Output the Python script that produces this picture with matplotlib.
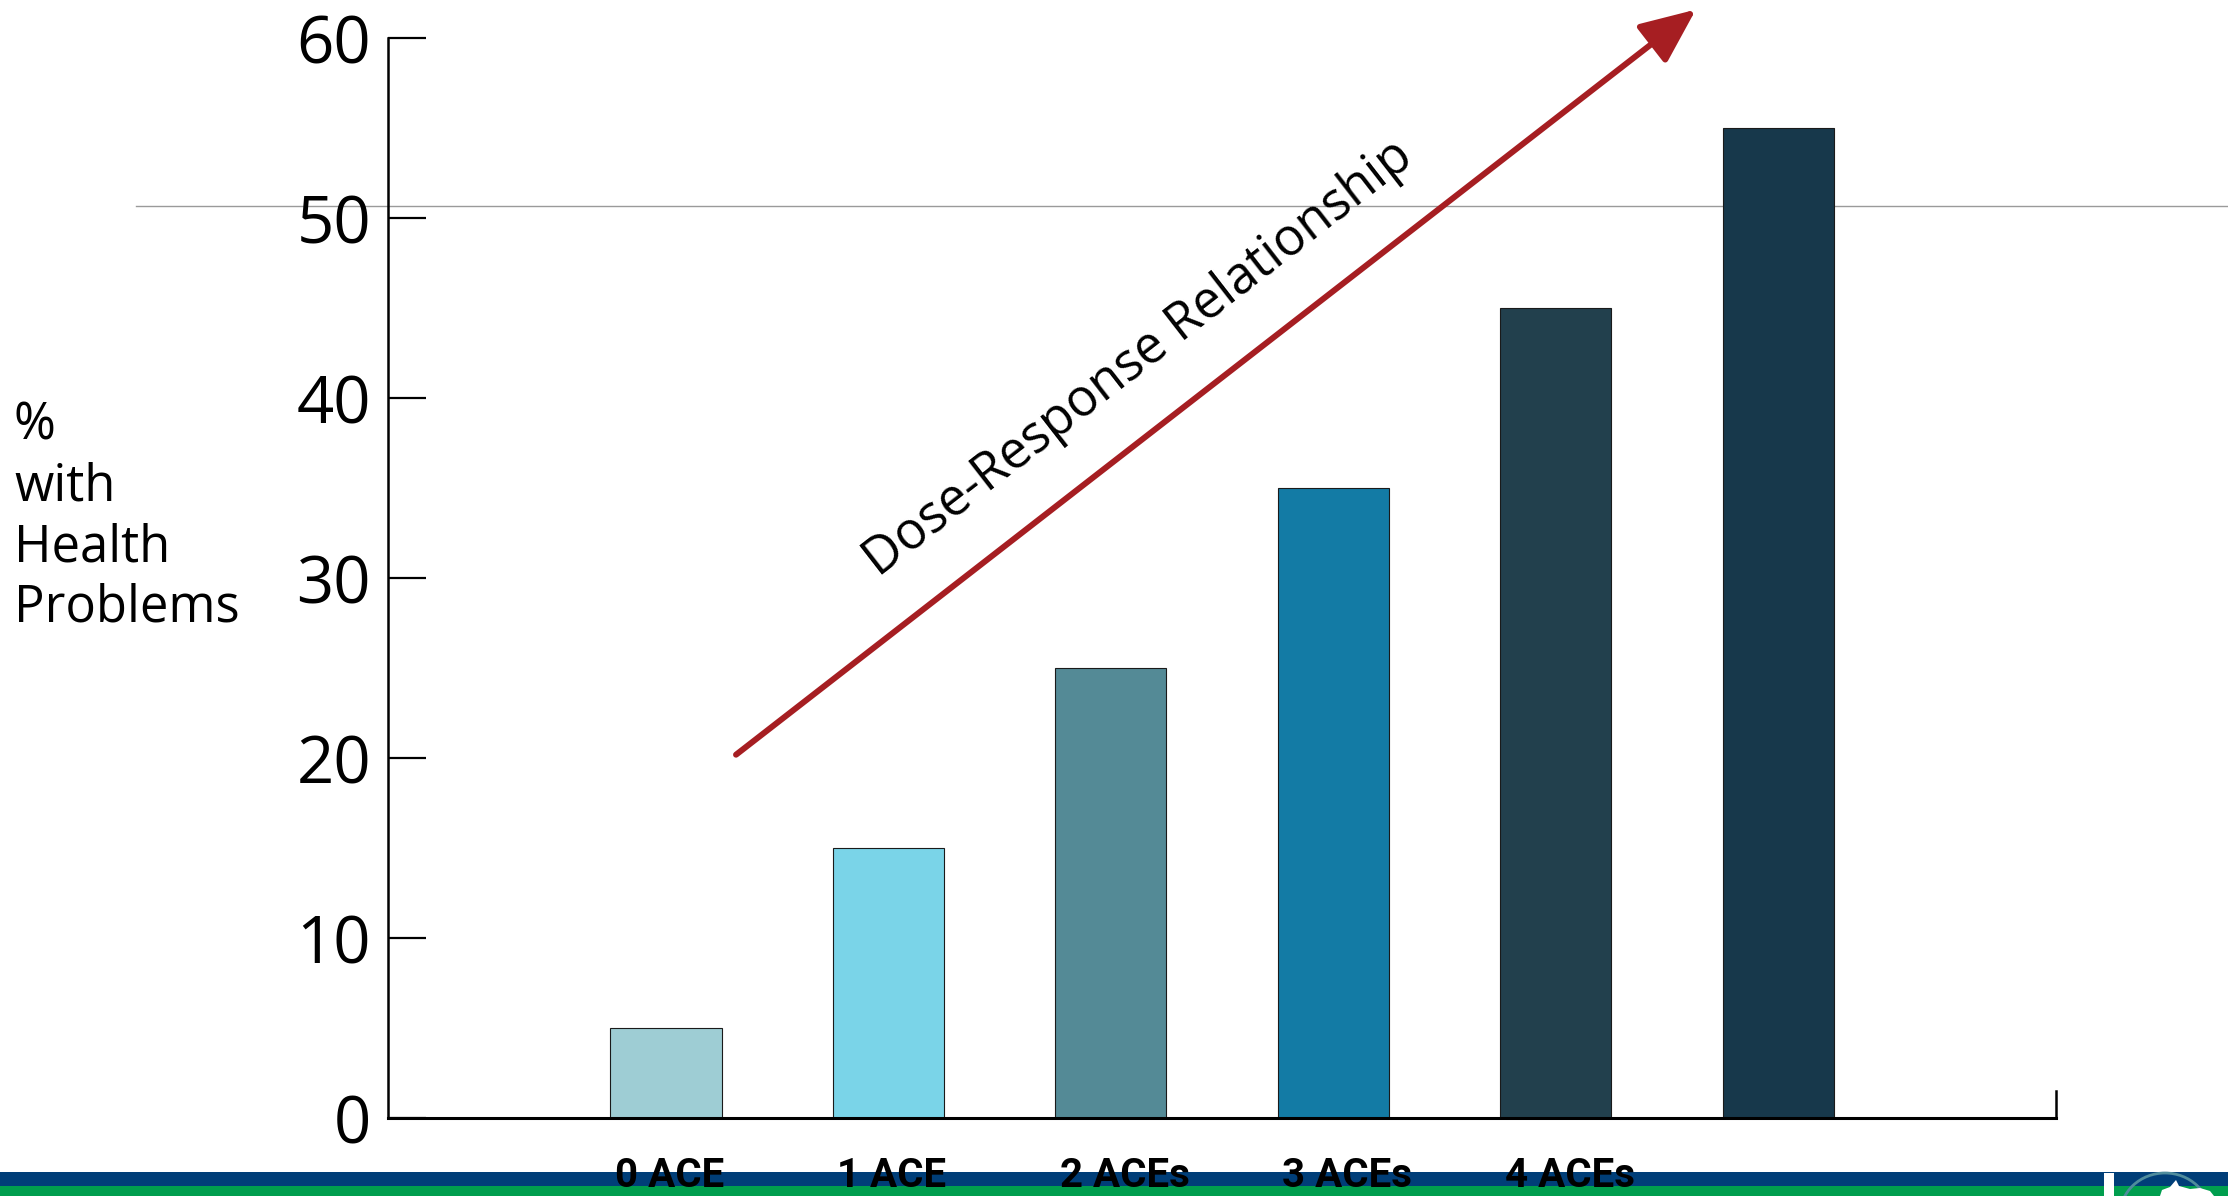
import numpy as np
import matplotlib.pyplot as plt
from matplotlib.patches import Rectangle, Arc, Polygon

# データ
categories = ["0 ACE", "1 ACE", "2 ACEs", "3 ACEs", "4 ACEs"]
values = [5, 15, 25, 35, 45, 55]
bar_colors = ["#9ECDD4", "#7AD4E8", "#548A96", "#137BA5", "#22404D", "#17384B"]
y_ticks = [0, 10, 20, 30, 40, 50, 60]

plt.rcParams['font.family'] = ['Open Sans', 'DejaVu Sans']

fig = plt.figure(figsize=(22.28, 11.96), dpi=100)
ax = fig.add_axes([0.1741, 0.0650, 0.7488, 0.9029])
ax.patch.set_alpha(0)

x = np.arange(len(values))
ax.bar(x, values, width=0.5, color=bar_colors, edgecolor='#1a1a1a', linewidth=0.8, zorder=2)

ax.set_xlim(-1.25, 6.25)
ax.set_ylim(0, 60)

# 軸
ax.spines['top'].set_visible(False)
ax.spines['left'].set_linewidth(1.8)
ax.spines['bottom'].set_linewidth(2.2)
ax.spines['right'].set_linewidth(1.8)
ax.spines['right'].set_bounds(0, 1.5)

ax.set_yticks(y_ticks)
ax.tick_params(axis='y', direction='in', length=27, width=1.6, pad=12, labelsize=47)

# x軸ラベル（棒の左端に揃える）
ax.set_xticks(x[:len(categories)] - 0.23)
ax.set_xticklabels(categories, ha='left', fontsize=29, fontweight='bold',
                   family=['Roboto', 'DejaVu Sans'])
ax.tick_params(axis='x', length=0, pad=28)

# スライドの横線
ax.axhline(50.7, xmin=-0.151, xmax=1.103, clip_on=False, color='#9a9a9a', lw=1.0, zorder=0.5)

# 矢印と注記
ax.annotate('', xy=(4.63, 61.6), xytext=(0.315, 20.2), annotation_clip=False,
            arrowprops=dict(arrowstyle='-|>,head_length=0.55,head_width=0.24',
                            color='#A61E22', lw=4.3, mutation_scale=62,
                            shrinkA=0, shrinkB=0))
ax.text(2.125, 42.2, 'Dose-Response Relationship', rotation=37.8, rotation_mode='anchor',
        ha='center', va='center', fontsize=37, color='black')

# y軸ラベル
fig.text(14 / 2228, 0.5675, '%\nwith\nHealth\nProblems', ha='left', va='center',
         fontsize=36.5, linespacing=1.25)

# 下部の帯
fig.add_artist(Rectangle((0, 0.00836), 1, 0.01171, transform=fig.transFigure,
                         facecolor='#003E78', edgecolor='none', zorder=-1))
fig.add_artist(Rectangle((0, 0), 1, 0.00836, transform=fig.transFigure,
                         facecolor='#009E4E', edgecolor='none', zorder=-1))
# ロゴ（簡略）
fig.add_artist(Rectangle((2104 / 2228, 0), 10 / 2228, 23 / 1196, transform=fig.transFigure,
                         facecolor='white', edgecolor='none', zorder=-0.5))
fig.add_artist(Arc((2165 / 2228, -19 / 1196), 90 / 2228, 84 / 1196, theta1=0, theta2=180,
                   transform=fig.transFigure, color='#4F8C9C', lw=2, zorder=-0.5))
blob = np.array([[2160, 0], [2162, 6], [2170, 9], [2176, 16], [2179, 10],
                 [2190, 7], [2200, 8], [2210, 5], [2214, 0]])
fig.add_artist(Polygon(np.column_stack([blob[:, 0] / 2228, blob[:, 1] / 1196]),
                       closed=True, transform=fig.transFigure,
                       facecolor='white', edgecolor='none', zorder=-0.5))

plt.savefig("out.png", dpi=100)
